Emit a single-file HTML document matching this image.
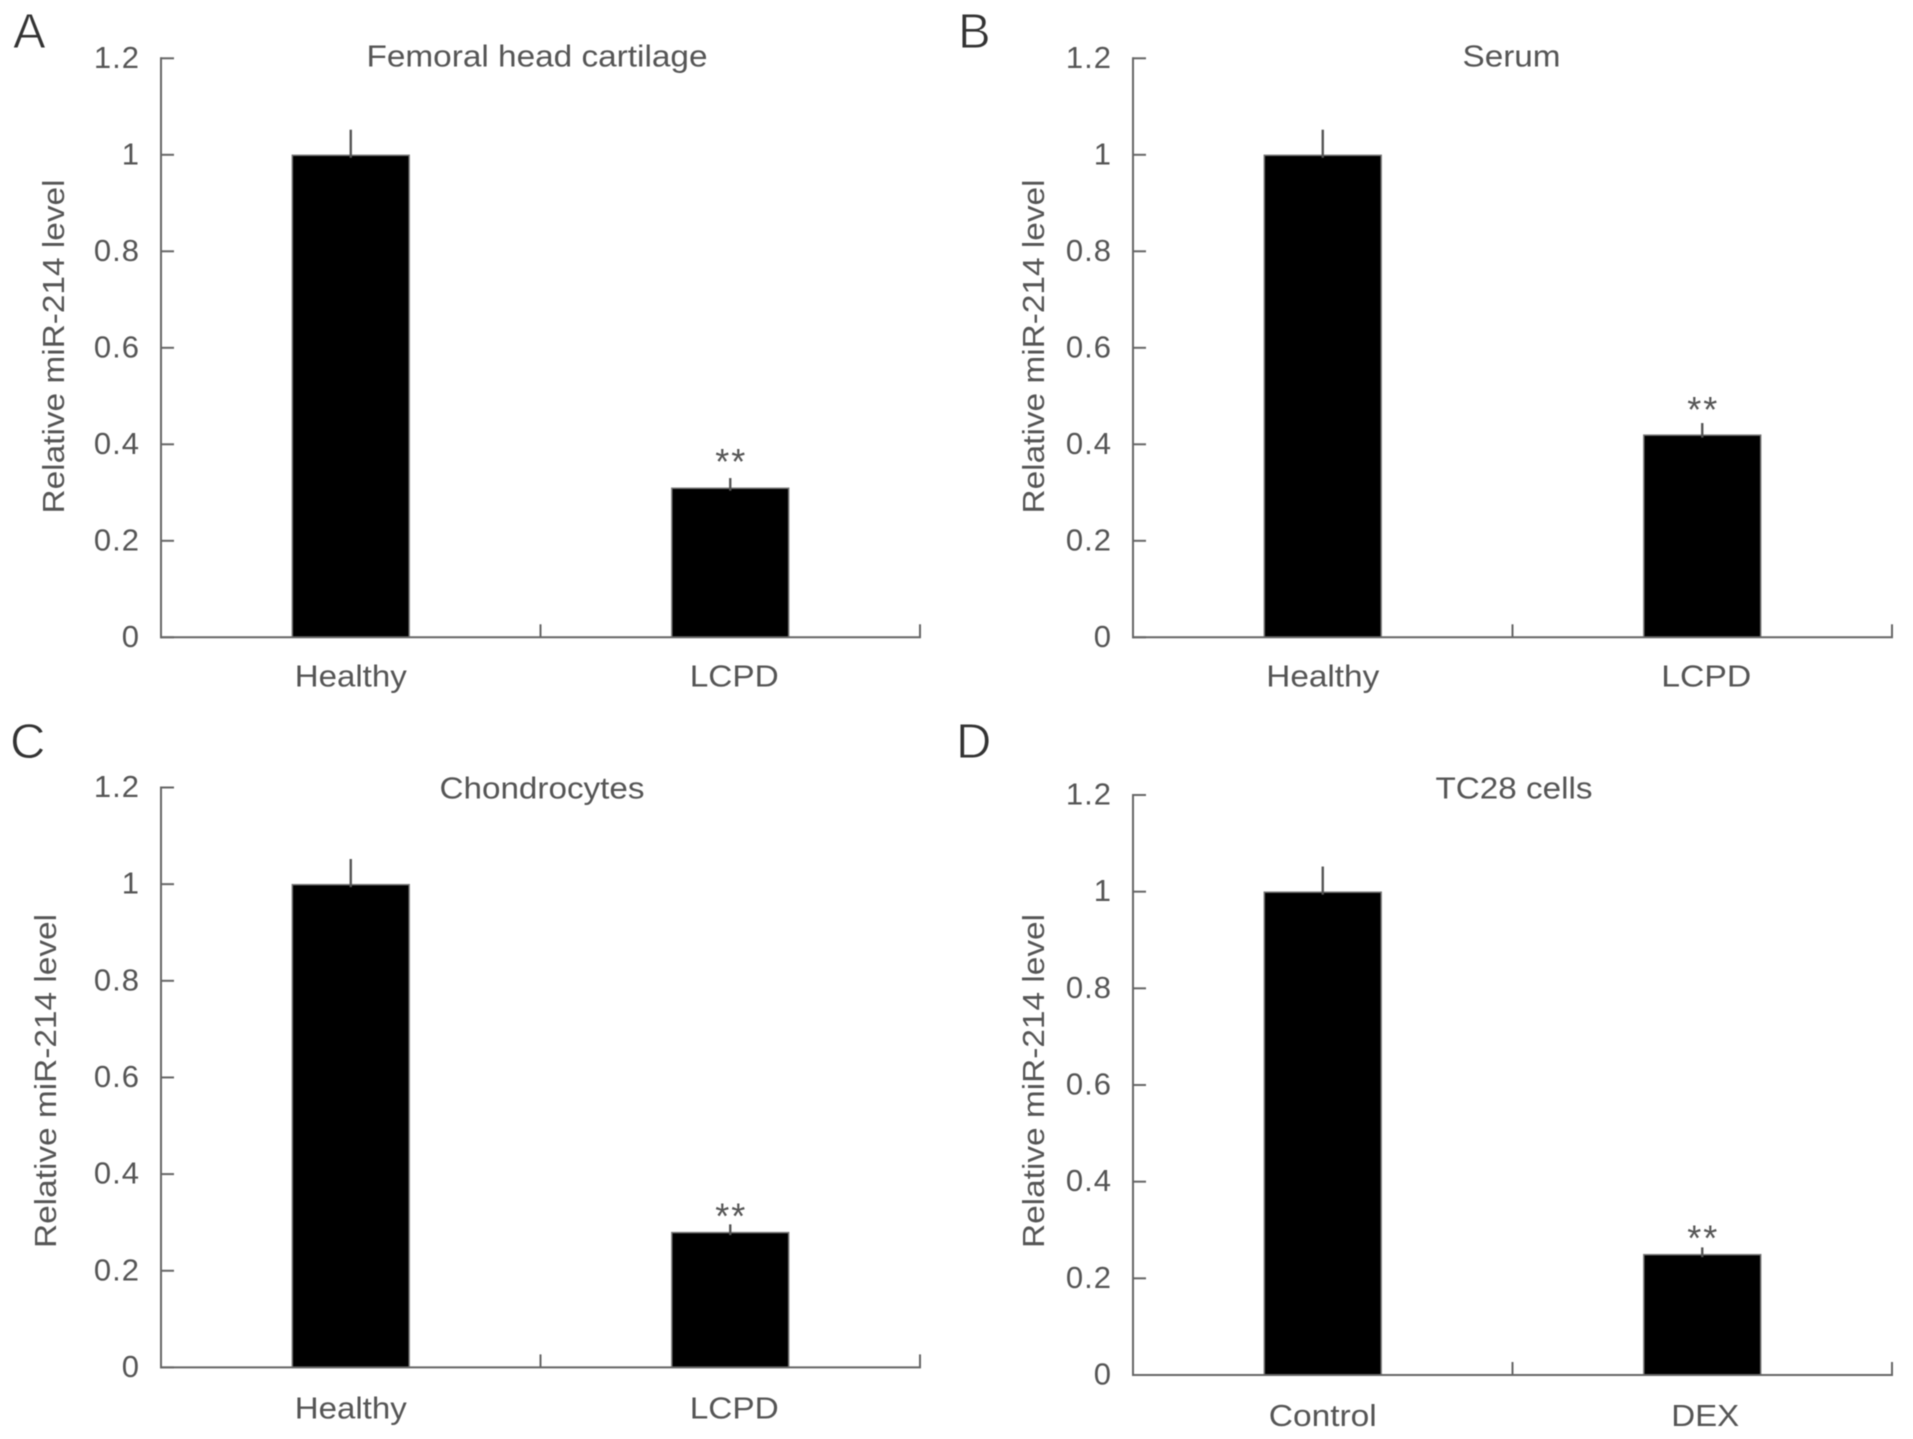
<!DOCTYPE html>
<html lang="en">
<head>
<meta charset="utf-8">
<title>Relative miR-214 level</title>
<style>
  html, body { margin: 0; padding: 0; background: #fff; }
  svg { display: block; filter: blur(0.55px); }
  text { font-family: "Liberation Sans", sans-serif; fill: #555; }
</style>
</head>
<body>
<svg id="figure" xmlns="http://www.w3.org/2000/svg" width="1913" height="1439" viewBox="0 0 1913 1439"></svg>
<script>
// ---- chart data ----
const yTickValues = [0, 0.2, 0.4, 0.6, 0.8, 1, 1.2];
const yTickLabels = ['0', '0.2', '0.4', '0.6', '0.8', '1', '1.2'];
const yAxisTitle = 'Relative miR-214 level';

const panelATitle = 'Femoral head cartilage';
const panelACategories = ['Healthy', 'LCPD'];
const panelAValues = [1, 0.31];
const panelAErrors = [0.052, 0.02];
const panelAMarks = ['', '**'];

const panelBTitle = 'Serum';
const panelBCategories = ['Healthy', 'LCPD'];
const panelBValues = [1, 0.42];
const panelBErrors = [0.052, 0.024];
const panelBMarks = ['', '**'];

const panelCTitle = 'Chondrocytes';
const panelCCategories = ['Healthy', 'LCPD'];
const panelCValues = [1, 0.28];
const panelCErrors = [0.052, 0.016];
const panelCMarks = ['', '**'];

const panelDTitle = 'TC28 cells';
const panelDCategories = ['Control', 'DEX'];
const panelDValues = [1, 0.25];
const panelDErrors = [0.052, 0.014];
const panelDMarks = ['', '**'];

// ---- layout ----
const yMax = 1.2;
const panels = [
  { id: 'a', letter: 'A', letterX: 13, letterY: 48,
    title: panelATitle, cats: panelACategories, vals: panelAValues, errs: panelAErrors, marks: panelAMarks,
    x0: 161, x1: 920, yTop: 58.3, yBase: 637.3,
    titleX: 537, titleY: 66.5, titleW: 341,
    yTitleX: 64, yTitleY: 346.5,
    xLabelY: 686.5, xLabelShift: [0, 4], xLabelW: [112, 89], starGap: 23 },
  { id: 'b', letter: 'B', letterX: 958, letterY: 48,
    title: panelBTitle, cats: panelBCategories, vals: panelBValues, errs: panelBErrors, marks: panelBMarks,
    x0: 1133, x1: 1892, yTop: 58.3, yBase: 637.3,
    titleX: 1511.5, titleY: 66.5, titleW: 98,
    yTitleX: 1044, yTitleY: 346.5,
    xLabelY: 686.5, xLabelShift: [0, 4], xLabelW: [113, 90], starGap: 20 },
  { id: 'c', letter: 'C', letterX: 10, letterY: 758,
    title: panelCTitle, cats: panelCCategories, vals: panelCValues, errs: panelCErrors, marks: panelCMarks,
    x0: 161, x1: 920, yTop: 787.5, yBase: 1367.4,
    titleX: 542, titleY: 798.5, titleW: 205,
    yTitleX: 56, yTitleY: 1081,
    xLabelY: 1418.5, xLabelShift: [0, 4], xLabelW: [112, 89], starGap: 15 },
  { id: 'd', letter: 'D', letterX: 956, letterY: 758,
    title: panelDTitle, cats: panelDCategories, vals: panelDValues, errs: panelDErrors, marks: panelDMarks,
    x0: 1133, x1: 1892, yTop: 795, yBase: 1375,
    titleX: 1514, titleY: 798.5, titleW: 157,
    yTitleX: 1044, yTitleY: 1081,
    xLabelY: 1426, xLabelShift: [0, 3], xLabelW: [108, 68], starGap: 16 }
];

const svg = document.getElementById('figure');
const NS = 'http://www.w3.org/2000/svg';
const AXIS_COLOR = '#666';
const TICK_LEN = 13;
const BAR_RATIO = 0.308;
const TEXT_SIZE = 31;

function mk(tag, attrs, parent, text) {
  const el = document.createElementNS(NS, tag);
  Object.keys(attrs).forEach(function (k) { el.setAttribute(k, attrs[k]); });
  if (text !== undefined) el.textContent = text;
  parent.appendChild(el);
  return el;
}

panels.forEach(function (p) {
  const yScale = function (v) { return p.yBase - (v / yMax) * (p.yBase - p.yTop); };
  const band = (p.x1 - p.x0) / p.cats.length;
  const xCenter = function (i) { return p.x0 + band * (i + 0.5); };
  const barW = band * BAR_RATIO;

  const g = mk('g', {}, svg);
  
  

  const letter = mk('text', { x: p.letterX, y: p.letterY, 'font-size': 49, stroke: '#fff', 'stroke-width': 0.9, style: 'fill:#333' }, g, p.letter);
  
  

  const title = mk('text', { x: p.titleX, y: p.titleY, 'font-size': TEXT_SIZE, 'text-anchor': 'middle', textLength: p.titleW, lengthAdjust: 'spacingAndGlyphs' }, g, p.title);
  
  

  const yTitle = mk('text', { x: 0, y: 0, 'font-size': TEXT_SIZE, 'text-anchor': 'middle', textLength: 334, lengthAdjust: 'spacingAndGlyphs', transform: 'translate(' + p.yTitleX + ',' + p.yTitleY + ') rotate(-90)' }, g, yAxisTitle);
  
  

  // bars first so that axes sit on top
  p.vals.forEach(function (v, i) {
    const top = yScale(v);
    const bar = mk('rect', { x: xCenter(i) - barW / 2, y: top + 0.5, width: barW, height: p.yBase - top - 0.5, fill: '#000', stroke: '#777', 'stroke-width': 1.5 }, g);
    
    

    const errTop = yScale(v + p.errs[i]);
    const err = mk('line', { x1: xCenter(i), x2: xCenter(i), y1: top + 3, y2: errTop, stroke: '#555', 'stroke-width': 2.4 }, g);
    
    

    if (p.marks[i]) {
      const star = mk('text', { x: xCenter(i), y: errTop - p.starGap + 19, 'font-size': 36, 'text-anchor': 'middle', textLength: 30, lengthAdjust: 'spacing' }, g, p.marks[i]);
      
      
    }

    const label = mk('text', { x: xCenter(i) + p.xLabelShift[i], y: p.xLabelY, 'font-size': TEXT_SIZE, 'text-anchor': 'middle', textLength: p.xLabelW[i], lengthAdjust: 'spacingAndGlyphs' }, g, p.cats[i]);
    
    
  });

  const yAxis = mk('line', { x1: p.x0, x2: p.x0, y1: p.yTop - 1, y2: p.yBase + 1, stroke: AXIS_COLOR, 'stroke-width': 2 }, g);
  
  

  const xAxis = mk('line', { x1: p.x0 - 1, x2: p.x1 + 1, y1: p.yBase, y2: p.yBase, stroke: AXIS_COLOR, 'stroke-width': 2 }, g);
  
  

  yTickValues.forEach(function (v, i) {
    const y = yScale(v);
    const tick = mk('line', { x1: p.x0, x2: p.x0 + TICK_LEN, y1: y, y2: y, stroke: AXIS_COLOR, 'stroke-width': 2 }, g);
    
    

    const lab = mk('text', { x: p.x0 - 21, y: y + 9.5, 'font-size': TEXT_SIZE, 'text-anchor': 'end', 'letter-spacing': 1 }, g, yTickLabels[i]);
    
    
  });

  for (let i = 1; i <= p.cats.length; i++) {
    const x = p.x0 + band * i;
    const tick = mk('line', { x1: x, x2: x, y1: p.yBase, y2: p.yBase - TICK_LEN, stroke: AXIS_COLOR, 'stroke-width': 2 }, g);
    
    
  }
});
</script>
</body>
</html>
